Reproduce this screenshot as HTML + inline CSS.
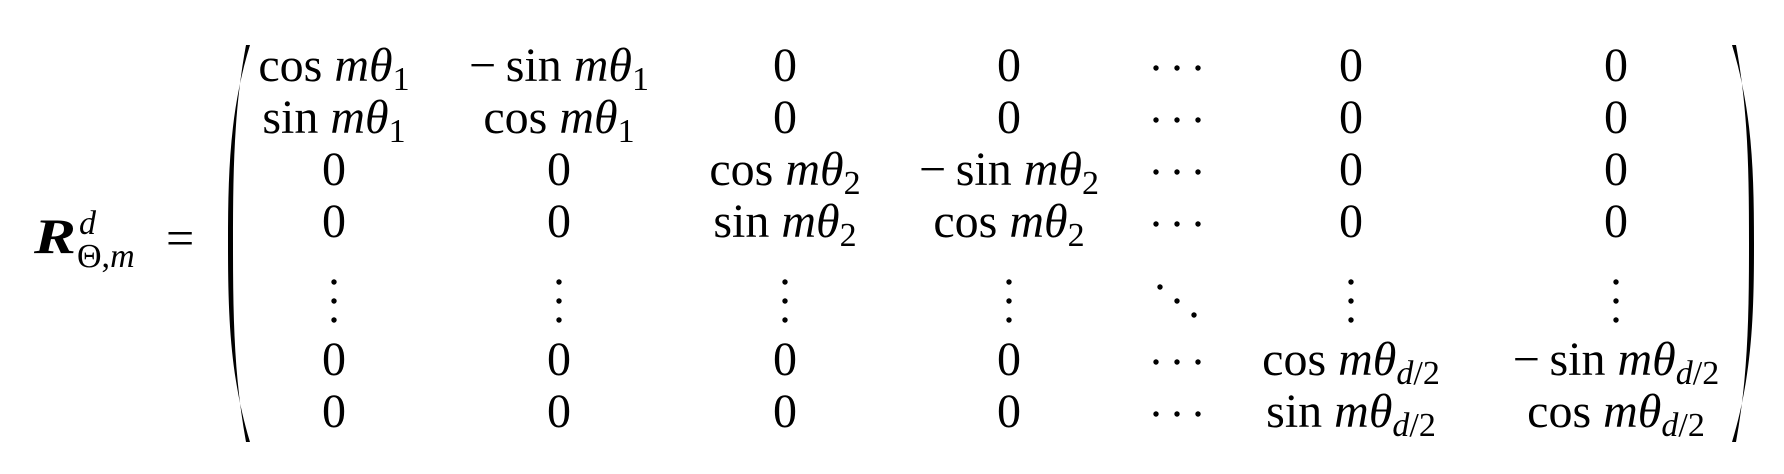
<!DOCTYPE html>
<html><head><meta charset="utf-8"><style>
html,body{margin:0;padding:0;background:#fff;width:1784px;height:474px;overflow:hidden}
svg text{font-family:"Liberation Serif",serif;fill:#000}
.it{font-style:italic}
</style></head><body>
<svg id="eq" width="1784" height="474" viewBox="0 0 1784 474" xmlns="http://www.w3.org/2000/svg">
<g>
<text x="34" y="253" font-size="50" font-weight="bold" class="it" textLength="42" lengthAdjust="spacingAndGlyphs">R</text>
<text x="79" y="234" font-size="34" class="it">d</text>
<text x="77" y="267" font-size="34">Θ,<tspan class="it">m</tspan></text>
<text x="166" y="255" font-size="50">=</text>
</g>
<path d="M250,45 C230,110 228,170 228,243 C228,316 230,376 250,442 L246,442 C234,376 233,316 233,243 C233,170 234,110 246,45 Z" fill="#000"/>
<path d="M1732,45 C1752,110 1754,170 1754,243 C1754,316 1752,376 1732,442 L1736,442 C1748,376 1749,316 1749,243 C1749,170 1748,110 1736,45 Z" fill="#000"/>
<g id="cells"></g>
</svg>
<script>
const colX=[334,559,785,1009,1177,1351,1616];
const rowY=[81,133,185,237,0,375,427];
const NS='http://www.w3.org/2000/svg';
const g=document.getElementById('cells');
function term(fn,sub,neg){return {fn:fn,sub:sub,neg:neg};}
const rows=[
[term('cos','1'),term('sin','1',1),'0','0','c','0','0'],
[term('sin','1'),term('cos','1'),'0','0','c','0','0'],
['0','0',term('cos','2'),term('sin','2',1),'c','0','0'],
['0','0',term('sin','2'),term('cos','2'),'c','0','0'],
null,
['0','0','0','0','c',term('cos','d/2'),term('sin','d/2',1)],
['0','0','0','0','c',term('sin','d/2'),term('cos','d/2')]
];
function dot(x,y){const c=document.createElementNS(NS,'circle');c.setAttribute('cx',x);c.setAttribute('cy',y);c.setAttribute('r',2.7);


g.appendChild(c);}
rows.forEach((r,i)=>{
 if(!r){colX.forEach((x,j)=>{if(j===4){dot(1160,287);dot(1177,301);dot(1194,315);}else{dot(x,282);dot(x,301);dot(x,320);}});return;}
 r.forEach((c,j)=>{
  const x=colX[j],y=rowY[i];
  if(c==='c'){dot(1156,y-13);dot(1177,y-13);dot(1198,y-13);return;}
  const t=document.createElementNS(NS,'text');
  t.setAttribute('x',x);t.setAttribute('y',y);t.setAttribute('font-size','48');t.setAttribute('text-anchor','middle');
  
  
  if(typeof c==='string'){t.textContent=c;}
  else{
   let sub=c.sub==='d/2'?'<tspan class="it">d</tspan>/2':c.sub;
   t.innerHTML=(c.neg?'−\u2009':'')+c.fn+' <tspan class="it">mθ</tspan><tspan font-size="34" dy="9">'+sub+'</tspan>';
  }
  g.appendChild(t);
 });
});
</script>
</body></html>
